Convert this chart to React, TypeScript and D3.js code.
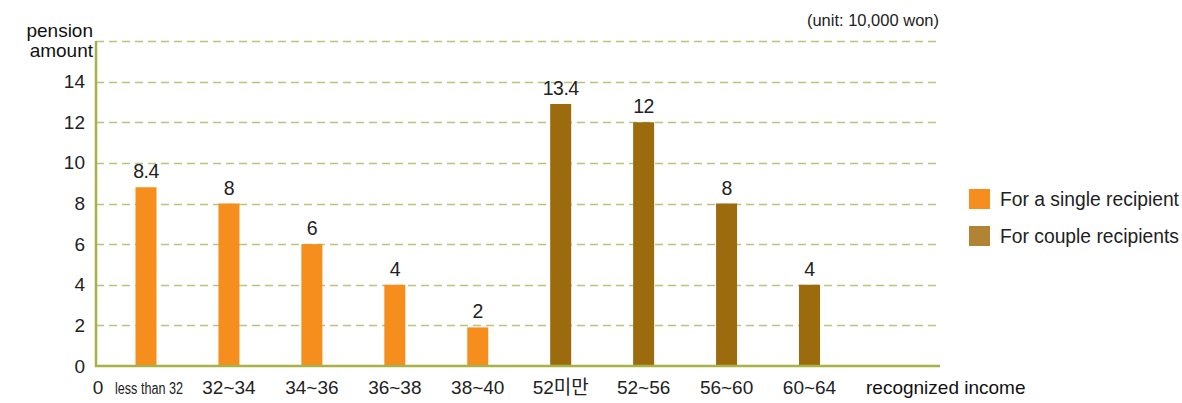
import React from "react";
import * as d3 from "d3";

const categories = ["less than 32", "32~34", "34~36", "36~38", "38~40", "52미만", "52~56", "56~60", "60~64"];
const groups = ["single", "single", "single", "single", "single", "couple", "couple", "couple", "couple"];
const barValues = [8.8, 8, 6, 4, 1.9, 12.9, 12, 8, 4];
const valueLabels = ["8.4", "8", "6", "4", "2", "13.4", "12", "8", "4"];
const yTicks = [0, 2, 4, 6, 8, 10, 12, 14];
const gridLines = [2, 4, 6, 8, 10, 12, 14, 16];
const legendItems = [
  { key: "single", label: "For a single recipient" },
  { key: "couple", label: "For couple recipients" },
];

const W = 1182;
const H = 403;
const FONT = "'Liberation Sans', Arial, 'Noto Sans CJK KR', sans-serif";

export default function App() {
  const x0 = 96;
  const x1 = 940;
  const y = d3.scaleLinear().domain([0, 16]).range([366, 41]);
  const x = d3.scalePoint<string>().domain(categories).range([146, 809.5]);
  const barW = 21;
  const barColor: Record<string, string> = { single: "#F68E1E", couple: "#9C6B0E" };
  const legendColor: Record<string, string> = { single: "#F68E1E", couple: "#B08335" };

  return (
    <div>
      <style>{`body{margin:0}`}</style>
      <svg width={W} height={H} style={{ display: "block", fontFamily: FONT }}>
        {gridLines.map((g) => (
          <line
            key={g}
            x1={x0}
            x2={x1}
            y1={Math.round(y(g)) + 0.5}
            y2={Math.round(y(g)) + 0.5}
            stroke="#BCC47C"
            strokeWidth={1.3}
            strokeDasharray="8 5"
          />
        ))}
        {categories.map((c, i) => (
          <rect
            key={c}
            x={(x(c) as number) - barW / 2}
            y={y(barValues[i])}
            width={barW}
            height={y(0) - y(barValues[i])}
            fill={barColor[groups[i]]}
          />
        ))}
        {categories.map((c, i) => (
          <text
            key={"v" + c}
            x={x(c) as number}
            y={y(barValues[i]) - 9}
            textAnchor="middle"
            fontSize={19.5}
            letterSpacing={-0.5}
            fill="#222"
          >
            {valueLabels[i]}
          </text>
        ))}
        <line x1={x0} x2={x0} y1={y(16)} y2={y(0) + 1} stroke="#A8B244" strokeWidth={2.5} />
        <line x1={x0 - 1} x2={x1} y1={y(0)} y2={y(0)} stroke="#A8B244" strokeWidth={2.5} />
        {yTicks.map((t) => (
          <text key={"t" + t} x={85} y={y(t) + 6.5} textAnchor="end" fontSize={19} fill="#222">
            {t}
          </text>
        ))}
        <text x={98} y={394} textAnchor="middle" fontSize={19} fill="#222">0</text>
        {categories.map((c, i) =>
          i === 0 ? (
            <text
              key={"x" + c}
              x={(x(c) as number) + 3}
              y={394}
              textAnchor="middle"
              fontSize={16}
              textLength={68}
              lengthAdjust="spacingAndGlyphs"
              fill="#222"
            >
              {c}
            </text>
          ) : (
            <text key={"x" + c} x={x(c) as number} y={394} textAnchor="middle" fontSize={19} fill="#222">
              {c}
            </text>
          )
        )}
        <text x={866} y={394} fontSize={19} fill="#111">recognized income</text>
        <text x={93} y={37} textAnchor="end" fontSize={19} fill="#111">pension</text>
        <text x={93} y={57} textAnchor="end" fontSize={19} fill="#111">amount</text>
        <text x={939} y={26} textAnchor="end" fontSize={16.5} fill="#222">(unit: 10,000 won)</text>
        {legendItems.map((l, i) => (
          <g key={l.key} transform={`translate(969, ${189 + i * 37})`}>
            <rect width={21} height={20} fill={legendColor[l.key]} />
            <text x={31} y={17} fontSize={19.3} fill="#222">{l.label}</text>
          </g>
        ))}
      </svg>
    </div>
  );
}
